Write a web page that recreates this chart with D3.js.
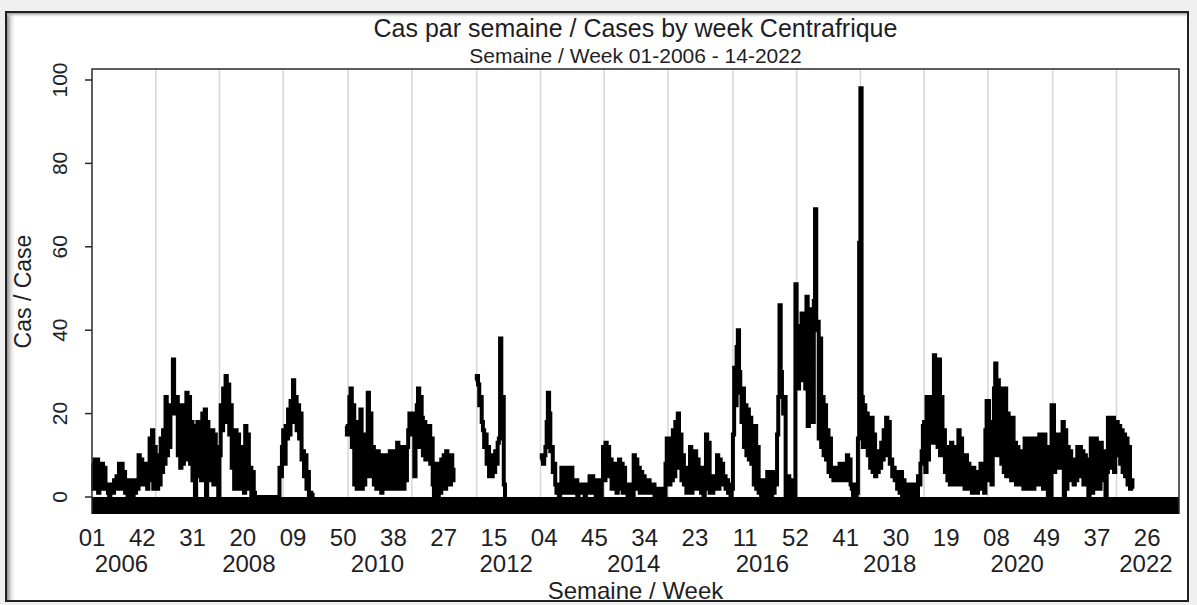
<!DOCTYPE html>
<html>
<head>
<meta charset="utf-8">
<script src="https://cdn.jsdelivr.net/npm/d3@7"></script>
<style>
  body { margin: 0; background: #f0f0f0; }
  svg { display: block; font-family: "Liberation Sans", Arial, sans-serif; }
</style>
</head>
<body>
<div id="chart"></div>
<script>
// weekly cases, one array per year (null = week not reported)
const cases2006 = [8,2,9,3,9,1, 8,2,8,3,7,2, 3,1,0,1, 3,1,4,2, 5,2,8,3,8, 2,6,1,4, 0,3,1,4,0, 3,1,4,2, 10,3,9,4, 8,3,8,2,7, 14,4,16,2,12];
const cases2007 = [9,2,10,3, 14,6,16,8, 24,10,22,12, 20,22, 33,24,20, 24,10,22,7, 21,8,22,10, 25,9,24,8, 18,4,17, 0,14, 18,5,17,4, 20,6,21,0, 18,4,16,5, 16,3,15,4, 12,0];
const cases2008 = [10,22,16,26, 18,29,20,27, 15,22,7, 13,2,16,3, 15,2,12,2, 9,1,17,2, 15,3,7,0, 6,1,0,
  0,0,0,0,0,0,0,0,0,0,0,0,0,0,0,0,0,0, 0,7,5,12];
const cases2009 = [16,8,17,14, 21,15,23,18, 28,20,24,16, 22,14,20,9, 11,5,10,2, 6,0,1,0, 1,
  null,null,null,null,null,null,null,null,null,null,null,null,null,null,null,null,null,null,null,null,null,null,null,null,null,null,
  17,15];
const cases2010 = [16,24,26,12,22, 3,10,2, 18,4,21,2,14, 3,15,5, 25,6,20,5, 12,3,10,2,11, 2,9,1,10,2,8, 3,10,2,11,3,9, 2,11,3,13,2,12, 3,11,2,12,4, 12,16,20,19];
const cases2011 = [15,20,5,18, 22,26,12,24, 19,10,18,9,16, 10,17,8,14, 3,0,5, 8,0,7,1,9, 3,10,2,11,4, 9,3,10,4,7,
  null,null,null,null,null,null,null,null,null,null,null,null,null,null,null,null,null, 28];
const cases2012 = [29,27,22,24,18,16,12,15,8,12,5,10,5,9,6,11,8,13,14,38,24,24,3,0,
  null,null,null,null,null,null,null,null,null,null,null,null,null,null,null,null,null,null,null,null,null,null,null,null,null,null,null,null];
const cases2013 = [9,10,8,10, 12,18,25,20, 11,12,6,8, 3,1,2,0,3, 7,1,6,2,7, 1,6,2,7,1, 3,1,4,0,3,1,3, 1,2,0,3,1,2, 5,1,5,2, 3,0,4,1,3,0, 4,12];
const cases2014 = [4,13,6,12, 5,9,2,8, 3,8,1,7, 9,2,8,1,7, 2,3,0,3,1, 2,0,10,3,9, 2,7,1,6,3, 5,1,4,2,4,1, 3,1,3,0,2,1,2, 0,2,1,2,0, 8,14];
const cases2015 = [14,3,12,4,16, 5,18,8,20,7, 15,4,10,3, 6,1,7,2, 12,1,11,2, 11,3,9,2, 6,1,7,0, 4,15,2,13,1, 4,1,5,2,3, 10,2,9,3,8, 4,5,2,4,1, 3,0,2];
const cases2016 = [15,31,22,36, 40,30,25,18, 26,12,22,10, 21,9,19,8, 11,3,17,2, 12,1,4,0,3, 1,4,0,6,1, 5,0,6,1,5, 3,15,24, 46,30,24, 20,24,0, 2,5,0,4,1,3, 0,51];
const cases2017 = [38,26,41,28, 44,30,42,26, 48,17,45,20, 43,18,47, 69,40, 42,14,38,12, 24,10,22,9, 16,6,14,5, 6,4,7,5,6,4, 8,5,7,4,8, 6,10,4,9,3, 2,0,3,0, 1,14,61];
const cases2018 = [98,24,12,22, 14,20,10,16, 7,19,6,15, 5,11,6,10, 7,13,9,16, 10,19,12,18, 8,9,5,7, 4,6,2,5, 1,6,0,4,1, 3,0,2,0,3,0, 2,1,3,0, 5,3,8,11,17];
const cases2019 = [18,6,24,9, 24,14,22,13, 34,14,32,12, 33,10,24, 14,16,6,12, 4,10,3, 13,4,11,3, 12,3,16,4, 14,3,10,2, 10,2,8,2, 6,1,7,2, 5,1,6,2, 8,2,7,1, 16,23];
const cases2020 = [23,4,18,3, 14,26,32,10, 28,12,26,8, 24,6,26,5, 20,6,18,4, 19,4,13,3, 12,3,11,4, 10,2,14,3, 14,2,13,4, 14,2,13,3, 14,4,15,3, 14,2,15,4, 12,0,10,0,22];
const cases2021 = [22,6,14,8, 15,7,14,9, 18,0,16,2, 12,4,11,5, 8,3,9,4, 12,5,12,6, 11,3,10,4, 9,0,2, 14,1,13,2, 14,3,12,2, 13,4,11,5, 0,6, 19,8,18,7, 19,6,18];
const cases2022 = [18,10,17,8,16,6,15,5,14,3,12,2,4,2];

const years = [2006,2007,2008,2009,2010,2011,2012,2013,2014,2015,2016,2017,2018,2019,2020,2021,2022];
const yearSeries = [cases2006,cases2007,cases2008,cases2009,cases2010,cases2011,cases2012,cases2013,
  cases2014,cases2015,cases2016,cases2017,cases2018,cases2019,cases2020,cases2021,cases2022];

// x axis: week number + year of each tick
const weekTickLabels = ["01","42","31","20","09","50","38","27","15","04","45","34","23","11","52","41","30","19","08","49","37","26"];
const weekTickYears  = [2006,2006,2007,2008,2009,2009,2010,2011,2012,2013,2013,2014,2015,2016,2016,2017,2018,2019,2020,2020,2021,2022];
const yearLabels = [2006,2008,2010,2012,2014,2016,2018,2020,2022];
const yTicks = [0,20,40,60,80,100];

const WIDTH = 1197, HEIGHT = 605;
const PLOT = { left: 92, right: 1179, top: 69, bottom: 514 };
const INK = "#1e1e24";

// flatten the years into one weekly sequence
const yearStart = {};
const points = [];
let n = 0;
years.forEach((yr, k) => {
  yearStart[yr] = n;
  yearSeries[k].forEach(v => { points.push({ i: n, v: v }); n++; });
});

const x = d3.scaleLinear().domain([0, 887]).range([PLOT.left, PLOT.right]);
const y = d3.scaleLinear().domain([0, 100]).range([497, 80]);

const svg = d3.select("#chart").append("svg")
  .attr("width", WIDTH)
  .attr("height", HEIGHT);

// window panel with a soft inner shadow
const defs = svg.append("defs");
const gl = defs.append("linearGradient").attr("id", "shadeL");
gl.append("stop").attr("offset", "0%").attr("stop-color", "#8a8a8a");
gl.append("stop").attr("offset", "100%").attr("stop-color", "#ffffff").attr("stop-opacity", 0);
const gt = defs.append("linearGradient").attr("id", "shadeT").attr("x1", 0).attr("x2", 0).attr("y1", 0).attr("y2", 1);
gt.append("stop").attr("offset", "0%").attr("stop-color", "#9a9a9a");
gt.append("stop").attr("offset", "100%").attr("stop-color", "#ffffff").attr("stop-opacity", 0);

svg.append("rect")
  .attr("x", 6).attr("y", 12).attr("width", 1182).attr("height", 589)
  .attr("fill", "#fff");
svg.append("rect")
  .attr("x", 7).attr("y", 13).attr("width", 9).attr("height", 588)
  .attr("fill", "url(#shadeL)");
svg.append("rect")
  .attr("x", 7).attr("y", 13).attr("width", 1180).attr("height", 5)
  .attr("fill", "url(#shadeT)");
svg.append("rect")
  .attr("x", 6).attr("y", 12).attr("width", 1182).attr("height", 589)
  .attr("fill", "none").attr("stroke", "#202020").attr("stroke-width", 2);

// titles
svg.append("text")
  .attr("x", (PLOT.left + PLOT.right) / 2).attr("y", 37)
  .attr("text-anchor", "middle").attr("font-size", 25).attr("fill", INK)
  .text("Cas par semaine / Cases by week Centrafrique");
svg.append("text")
  .attr("x", (PLOT.left + PLOT.right) / 2).attr("y", 63)
  .attr("text-anchor", "middle").attr("font-size", 21).attr("fill", INK)
  .text("Semaine / Week 01-2006 - 14-2022");

// year gridlines
svg.selectAll("line.grid")
  .data(years.slice(1))
  .enter().append("line")
    .attr("class", "grid")
    .attr("x1", d => x(yearStart[d])).attr("x2", d => x(yearStart[d]))
    .attr("y1", PLOT.top).attr("y2", y(0))
    .attr("stroke", "#d6d6d6").attr("stroke-width", 1.5);

// the series
const line = d3.line()
  .defined(d => d.v !== null)
  .x(d => x(d.i))
  .y(d => y(d.v))
  .curve(d3.curveStepAfter);

svg.append("path")
  .datum(points)
  .attr("d", line)
  .attr("fill", "none")
  .attr("stroke", "#000")
  .attr("stroke-width", 4);

// thick base band under zero
svg.append("rect")
  .attr("x", PLOT.left).attr("y", y(0))
  .attr("width", PLOT.right - PLOT.left).attr("height", PLOT.bottom - y(0))
  .attr("fill", "#000");

// plot frame
svg.append("path")
  .attr("d", `M${PLOT.left},${PLOT.bottom}V${PLOT.top}H${PLOT.right}V${PLOT.bottom}`)
  .attr("fill", "none").attr("stroke", "#2a2a2a").attr("stroke-width", 1.5);

// y axis
const yAxis = svg.append("g");
yAxis.selectAll("line")
  .data(yTicks)
  .enter().append("line")
    .attr("x1", PLOT.left - 7).attr("x2", PLOT.left)
    .attr("y1", d => y(d)).attr("y2", d => y(d))
    .attr("stroke", "#2a2a2a").attr("stroke-width", 1.5);
yAxis.selectAll("text")
  .data(yTicks)
  .enter().append("text")
    .attr("transform", d => `translate(67,${y(d)}) rotate(-90)`)
    .attr("text-anchor", "middle").attr("font-size", 21).attr("fill", INK)
    .text(d => d);

svg.append("text")
  .attr("transform", `translate(31,${(PLOT.top + PLOT.bottom) / 2}) rotate(-90)`)
  .attr("text-anchor", "middle").attr("font-size", 23).attr("fill", INK)
  .text("Cas / Case");

// x axis labels
svg.selectAll("text.week")
  .data(weekTickLabels)
  .enter().append("text")
    .attr("class", "week")
    .attr("x", (d, k) => x(yearStart[weekTickYears[k]] + (+d) - 1))
    .attr("y", 546)
    .attr("text-anchor", "middle").attr("font-size", 24).attr("fill", INK)
    .text(d => d);

svg.selectAll("text.year")
  .data(yearLabels)
  .enter().append("text")
    .attr("class", "year")
    .attr("x", d => x(yearStart[d] + 24))
    .attr("y", 572)
    .attr("text-anchor", "middle").attr("font-size", 24).attr("fill", INK)
    .text(d => d);

svg.append("text")
  .attr("x", (PLOT.left + PLOT.right) / 2).attr("y", 599)
  .attr("text-anchor", "middle").attr("font-size", 24).attr("fill", INK)
  .text("Semaine / Week");
</script>
</body>
</html>
